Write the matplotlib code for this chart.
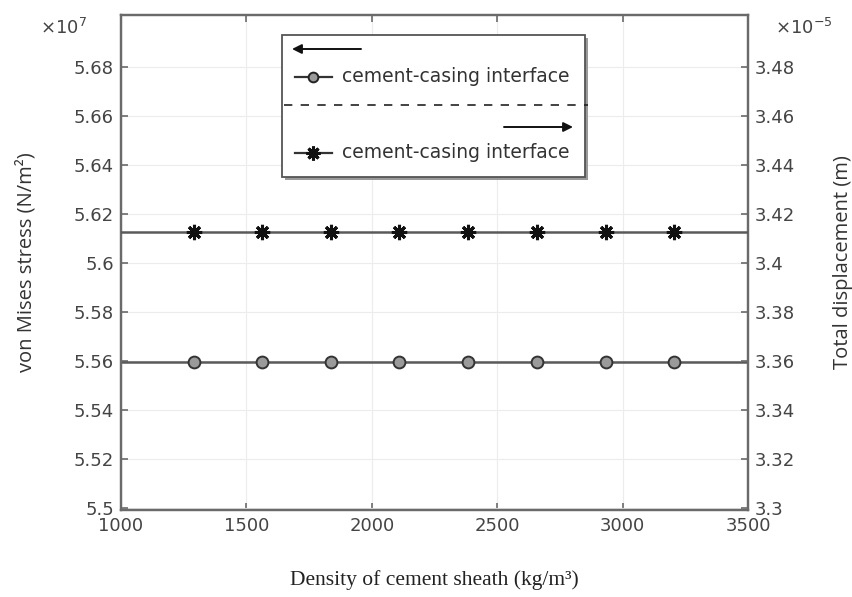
import numpy as np
import matplotlib
matplotlib.use("Agg")
import matplotlib.pyplot as plt
from matplotlib.lines import Line2D
from matplotlib.patches import Rectangle
from matplotlib.ticker import FuncFormatter

# data
density = [1000, 1290, 1564, 1836, 2110, 2384, 2658, 2932, 3206, 3500]
stress = [5.5597e7] * len(density)          # von Mises stress (N/m^2)
displacement = [3.4126e-5] * len(density)   # total displacement (m)
x_ticks = [1000, 1500, 2000, 2500, 3000, 3500]
stress_ticks = [5.50e7, 5.52e7, 5.54e7, 5.56e7, 5.58e7, 5.60e7,
                5.62e7, 5.64e7, 5.66e7, 5.68e7]
disp_ticks = [3.30e-5, 3.32e-5, 3.34e-5, 3.36e-5, 3.38e-5, 3.40e-5,
              3.42e-5, 3.44e-5, 3.46e-5, 3.48e-5]
legend_label = "cement-casing interface"

tick_color = "#444444"
line_color = "#5a5a5a"
spine_color = "#6a6a6a"

fig = plt.figure(figsize=(8.53, 5.97), dpi=100)
ax = fig.add_axes([121 / 853, 1 - 510 / 597, 627 / 853, 495 / 597])
ax2 = ax.twinx()

# left axis: stress, circles
ax.plot(density, stress, color=line_color, lw=1.8, marker="o", ms=8.5,
        mfc="#9a9a9a", mec="#333333", mew=1.4, markevery=slice(1, -1),
        zorder=3)
# right axis: displacement, asterisks
ax2.plot(density, displacement, color=line_color, lw=1.8,
         marker=(8, 2, 0), ms=11, mec="#111111", mew=2.2,
         markevery=slice(1, -1), zorder=3)

ax.set_xlim(1000, 3500)
ax.set_ylim(5.4992e7, 5.7012e7)
ax2.set_ylim(3.2992e-5, 3.5012e-5)

ax.set_xticks(x_ticks)
ax.set_yticks(stress_ticks)
ax2.set_yticks(disp_ticks)
ax.yaxis.set_major_formatter(FuncFormatter(lambda v, p: f"{round(v / 1e7, 4):g}"))
ax2.yaxis.set_major_formatter(FuncFormatter(lambda v, p: f"{round(v / 1e-5, 4):g}"))

ax.grid(True, color="#ececec", lw=0.8)
ax.set_axisbelow(True)

for a in (ax, ax2):
    for s in a.spines.values():
        s.set_color(spine_color)
        s.set_linewidth(1.6)
ax.tick_params(axis="x", direction="in", top=True, length=5, width=1.2,
               color=spine_color, labelsize=13, labelcolor=tick_color, pad=5)
ax.tick_params(axis="y", direction="in", length=5, width=1.2,
               color=spine_color, labelsize=13, labelcolor=tick_color, pad=5)
ax2.tick_params(axis="y", direction="in", length=5, width=1.2,
                color=spine_color, labelsize=13, labelcolor=tick_color, pad=5)

ax.set_ylabel("von Mises stress (N/m²)", fontsize=14.5, color="#333333",
              family="Open Sans")
ax2.set_ylabel("Total displacement (m)", fontsize=14.5, color="#333333",
               family="Open Sans")
ax.set_xlabel("Density of cement sheath (kg/m³)", fontsize=15.5,
              color="#222222", family="Liberation Serif")
ax.yaxis.label.set_va("center")
ax2.yaxis.label.set_va("center")
ax.xaxis.label.set_va("center")
ax.yaxis.set_label_coords((26 - 121) / 627, 0.5)
ax2.yaxis.set_label_coords((843 - 121) / 627, 0.5)
ax.xaxis.set_label_coords(0.5, (510 - 580) / 495)

# axis multipliers
fig.text(40 / 853, 1 - 28 / 597, r"$\mathregular{\times10^{7}}$",
         fontsize=13, color=tick_color, va="center")
fig.text(775 / 853, 1 - 28 / 597, r"$\mathregular{\times10^{-5}}$",
         fontsize=13, color=tick_color, va="center")

# legend box drawn by hand (two groups split by a dashed line)
T = ax.transAxes
def fx(px):
    return (px - 121) / 627
def fy(py):
    return (510 - py) / 495

ax.add_patch(Rectangle((fx(285), fy(180)), fx(588) - fx(285), fy(38) - fy(180),
                       transform=T, facecolor="#9a9a9a", edgecolor="none",
                       zorder=8, clip_on=False))
ax.add_patch(Rectangle((fx(282), fy(177)), fx(585) - fx(282), fy(35) - fy(177),
                       transform=T, facecolor="white", edgecolor="#555555",
                       lw=1.3, zorder=9, clip_on=False))
ax.annotate("", xy=(fx(292), fy(49)), xytext=(fx(361), fy(49)),
            xycoords=T, textcoords=T, zorder=10,
            arrowprops=dict(arrowstyle="-|>", color="#111111", lw=1.4,
                            mutation_scale=14, shrinkA=0, shrinkB=0))
ax.add_line(Line2D([fx(295), fx(332)], [fy(77), fy(77)], transform=T,
                   color="#333333", lw=1.6, zorder=10))
ax.add_line(Line2D([fx(313)], [fy(77)], transform=T, marker="o", ms=7,
                   mfc="#9a9a9a", mec="#222222", mew=1.4, zorder=11))
ax.text(fx(342), fy(77), legend_label, transform=T, fontsize=13.5,
        color="#333333", va="center", zorder=11)
ax.add_line(Line2D([fx(284), fx(588)], [fy(105), fy(105)], transform=T,
                   color="#222222", lw=1.2, ls=(0, (5, 5)), zorder=10,
                   clip_on=False))
ax.annotate("", xy=(fx(573), fy(127)), xytext=(fx(504), fy(127)),
            xycoords=T, textcoords=T, zorder=10,
            arrowprops=dict(arrowstyle="-|>", color="#111111", lw=1.4,
                            mutation_scale=14, shrinkA=0, shrinkB=0))
ax.add_line(Line2D([fx(295), fx(332)], [fy(153), fy(153)], transform=T,
                   color="#333333", lw=1.6, zorder=10))
ax.add_line(Line2D([fx(313)], [fy(153)], transform=T, marker=(8, 2, 0),
                   ms=10, mec="#111111", mew=2.2, zorder=11))
ax.text(fx(342), fy(153), legend_label, transform=T, fontsize=13.5,
        color="#333333", va="center", zorder=11)

fig.savefig("out.png", dpi=100)
